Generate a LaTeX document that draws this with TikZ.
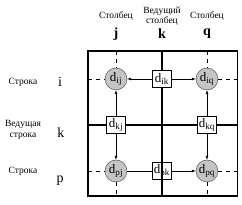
\documentclass[tikz,border=0pt]{standalone}
\usepackage{fontspec}
\setmainfont{Liberation Serif}
\usetikzlibrary{arrows.meta,positioning}
\definecolor{cellfill}{HTML}{C4C4C4}
\definecolor{celledge}{HTML}{404040}

\begin{document}
\begin{tikzpicture}[x=1pt, y=-1pt,
  every node/.style={font=\rmfamily\fontsize{9.5}{10}\selectfont},
  cell/.style={circle, draw=celledge, fill=cellfill, minimum size=22pt,
               inner sep=0pt, font=\rmfamily\fontsize{13}{13}\selectfont},
  pivot/.style={draw, fill=white, minimum width=19pt, minimum height=17pt,
                inner sep=0pt, line width=0.8pt, font=\rmfamily\fontsize{13}{13}\selectfont},
  idx/.style={font=\rmfamily\fontsize{14}{14}\selectfont},
  arr/.style={-{Latex[length=4pt,width=3pt]}, line width=0.6pt},
  guide/.style={dash pattern=on 4pt off 4pt, line width=0.8pt},
  axis/.style={line width=1.4pt}
]
  \useasboundingbox (0,0) rectangle (242,205);

  % frame and pivot lines
  \draw[line width=1.8pt] (88,51) rectangle (237.5,196);
  \coordinate (ktop) at (162,51);
  \coordinate (kbot) at (162,196);
  \coordinate (kleft) at (88,125);
  \coordinate (kright) at (237.5,125);
  \draw[axis] (ktop) -- (kbot);
  \draw[axis] (kleft) -- (kright);

  % headers
  \node (hj) at (116,16) {Столбец};
  \node[align=center, font=\rmfamily\fontsize{9.5}{10.5}\selectfont] (hk) at (162,16) {Ведущий\\столбец};
  \node (hq) at (207,16) {Столбец};
  \node[font=\rmfamily\bfseries\fontsize{14}{14}\selectfont] (cj) at (116,34) {j};
  \node[font=\rmfamily\bfseries\fontsize{14}{14}\selectfont] (ck) at (162,34) {k};
  \node[font=\rmfamily\bfseries\fontsize{14}{14}\selectfont] (cq) at (207,34) {q};

  \node (ri) at (23,82) {Строка};
  \node[align=center, font=\rmfamily\fontsize{9.5}{11}\selectfont] (rk) at (23,130) {Ведущая\\строка};
  \node (rp) at (23,171) {Строка};
  \node[idx] (li) at (60,82) {i};
  \node[idx] (lk) at (61,133) {k};
  \node[idx] (lp) at (60,181) {p};

  % elements
  \node[cell] (dij) at (116,79) {d\textsubscript{ij}};
  \node[cell] (diq) at (207,79) {d\textsubscript{iq}};
  \node[cell] (dpj) at (116,171) {d\textsubscript{pj}};
  \node[cell] (dpq) at (207,171) {d\textsubscript{pq}};
  \node[pivot] (dik) at (162,79) {d\textsubscript{ik}};
  \node[pivot] (dkj) at (116,125) {d\textsubscript{kj}};
  \node[pivot] (dkq) at (207,125) {d\textsubscript{kq}};
  \node[pivot, fill=none] (dpk) at (162,171) {d\textsubscript{pk}};

  % dashed guides to the frame
  \coordinate (jtop) at (116,51);
  \coordinate (jbot) at (116,196);
  \coordinate (qtop) at (207,51);
  \coordinate (qbot) at (207,196);
  \coordinate (ileft) at (88,79);
  \coordinate (iright) at (237.5,79);
  \coordinate (pleft) at (88,171);
  \coordinate (pright) at (237.5,171);
  \draw[guide] (jtop) -- (dij);
  \draw[guide] (dpj) -- (jbot);
  \draw[guide] (qtop) -- (diq);
  \draw[guide] (dpq) -- (qbot);
  \draw[guide] (ileft) -- (dij);
  \draw[guide] (diq) -- (iright);
  \draw[guide] (pleft) -- (dpj);
  \draw[guide] (dpq) -- (pright);

  % updates
  \draw[arr] (dik) -- (dij);
  \draw[arr] (dik) -- (diq);
  \draw[arr] (dkj) -- (dij);
  \draw[arr] (dkj) -- (dpj);
  \draw[arr] (dkq) -- (diq);
  \draw[arr] (dkq) -- (dpq);
  \draw[line width=0.6pt] (dpk) -- (dpj);
  \draw[arr] (dpk) -- (dpq);
\end{tikzpicture}
\end{document}
